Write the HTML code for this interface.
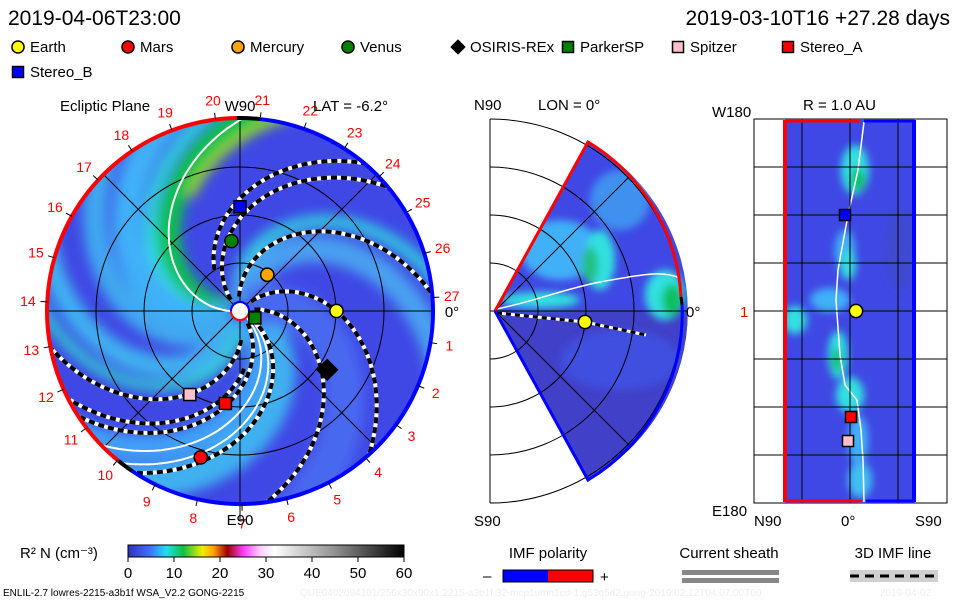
<!DOCTYPE html>
<html><head><meta charset="utf-8"><style>
body{margin:0;background:#fff;width:960px;height:600px;overflow:hidden}
svg{display:block;font-family:"Liberation Sans",sans-serif}
</style></head><body>
<svg id="s" width="960" height="600" viewBox="0 0 960 600">
<defs>
<filter id="bl" x="-20%" y="-20%" width="140%" height="140%"><feGaussianBlur stdDeviation="6"/></filter>
<filter id="bl2"><feGaussianBlur stdDeviation="4"/></filter>
<clipPath id="cd"><circle cx="240" cy="311" r="193"/></clipPath>
<clipPath id="cw"><path d="M495,311 L588,142 A193,193 0 0 1 588,480 Z"/></clipPath>
<clipPath id="cr"><rect x="785" y="119" width="130" height="384"/></clipPath>
<linearGradient id="cb" x1="0" x2="1">
<stop offset="0" stop-color="#3030c0"/><stop offset="0.08" stop-color="#4070ff"/><stop offset="0.14" stop-color="#20e0f0"/>
<stop offset="0.2" stop-color="#10c040"/><stop offset="0.27" stop-color="#f0f000"/><stop offset="0.31" stop-color="#ffa000"/>
<stop offset="0.36" stop-color="#a00000"/><stop offset="0.42" stop-color="#ff40ff"/><stop offset="0.48" stop-color="#ffd0ff"/>
<stop offset="0.53" stop-color="#ffffff"/><stop offset="0.75" stop-color="#909090"/><stop offset="1" stop-color="#000"/>
</linearGradient>
</defs>
<text x="8" y="25" font-size="21">2019-04-06T23:00</text>
<text x="950" y="25" font-size="21" text-anchor="end">2019-03-10T16 +27.28 days</text>
<g id="legend"></g>
<g id="disk"></g>
<g id="wedge"></g>
<g id="rp"></g>
<g>
<text x="20" y="558" font-size="15">R² N (cm⁻³)</text>
<rect x="128" y="545" width="276" height="12" fill="url(#cb)" stroke="#000"/>
<g id="cbt"></g>
</g>
<g>
<text x="548" y="558" font-size="15" text-anchor="middle">IMF polarity</text>
<text x="483" y="581" font-size="15">–</text>
<rect x="503" y="570" width="45" height="12" fill="#0000ff"/><rect x="548" y="570" width="45" height="12" fill="#ff0000"/>
<rect x="503" y="570" width="90" height="12" fill="none" stroke="#000"/>
<text x="600" y="582" font-size="15">+</text>
<text x="729" y="558" font-size="15" text-anchor="middle">Current sheath</text>
<rect x="682" y="570" width="97" height="5" fill="#888"/><rect x="682" y="578" width="97" height="5" fill="#888"/>
<text x="893" y="558" font-size="15" text-anchor="middle">3D IMF line</text>
<rect x="850" y="570" width="88" height="12" fill="#d0d0d0"/>
<line x1="850" y1="576" x2="938" y2="576" stroke="#000" stroke-width="3" stroke-dasharray="9,6"/>
</g>
<text x="3" y="596" font-size="10">ENLIL-2.7 lowres-2215-a3b1f WSA_V2.2 GONG-2215</text>
<text x="300" y="596" font-size="10" fill="#eee">QUE0402094101/256x30x90x1.2215-a3b1f.32-mcp1umn1cd-1.g53q5d2.gong-2019:02:12T04:07:00T00</text>
<text x="880" y="596" font-size="10" fill="#eee">2019-04-02</text>
</svg>
<script>
// ---- data ----
const planetNames=["Earth","Mars","Mercury","Venus","OSIRIS-REx","ParkerSP","Spitzer","Stereo_A","Stereo_B"];
const planetColors=["#ffff00","#ff0000","#ffa500","#008000","#000000","#008000","#ffc0cb","#ff0000","#0000ff"];
const planetShapes=["c","c","c","c","d","s","s","s","s"];
const planetR=[1.0,1.57,0.47,0.73,1.09,0.17,1.01,0.97,1.08];      // AU
const planetLon=[0,-105,53,97,-34,-25,-121,-99,90];              // deg
const fieldLineLon=[0,53,88,98,-34,-75,-99,-105,-121];           // lon at 1 AU
const fieldLineStart=[0.15,0.15,0.15,0.5,0.15,0.15,0.15,0.6,0.3];
const sheetLon=[137,-88,-80];
const bandLon=[137,150,165,185,215,230,60,40,-70,-90,-20];
const bandColors=["#10c050","#30d8e0","#40b0f8","#40a8f0","#40b0f0","#30d0d0","#30d0e0","#48a0f0","#40b0f0","#40a0f8","#4868f0"];
const bandWidths=[24,12,30,24,22,10,12,26,34,26,40];
const cbTicks=[0,10,20,30,40,50,60];
const lonLabels=[1,2,3,4,5,6,7,8,9,10,11,12,13,14,15,16,17,18,19,20,21,22,23,24,25,26,27];
const latTicks=[1];
// ---- scales ----
const NS="http://www.w3.org/2000/svg";
const CX=240,CY=311,AU=96.5,K=-48;
function mk(p,t,a){const e=document.createElementNS(NS,t);for(const k in a)e.setAttribute(k,a[k]);p.appendChild(e);return e;}
function px(r,lon){const a=lon*Math.PI/180;return [CX+r*AU*Math.cos(a),CY-r*AU*Math.sin(a)];}
function spiral(l1,r0,r1){let d="";for(let r=r0;r<=r1+1e-6;r+=0.04){const p=px(r,l1+K*(r-1));d+=(d?"L":"M")+p[0].toFixed(1)+","+p[1].toFixed(1);}return d;}
function marker(g,x,y,sh,col,sz){
 if(sh==="c")return mk(g,"circle",{cx:x,cy:y,r:sz*0.55,fill:col,stroke:"#000","stroke-width":1.5});
 if(sh==="s")return mk(g,"rect",{x:x-sz/2,y:y-sz/2,width:sz,height:sz,fill:col,stroke:"#000","stroke-width":1.5});
 return mk(g,"path",{d:`M${x},${y-sz*0.7}L${x+sz*0.7},${y}L${x},${y+sz*0.7}L${x-sz*0.7},${y}Z`,fill:col});
}
// legend
const lg=document.getElementById("legend");
planetNames.forEach((n,i)=>{
 const x=i<8?18+i*110:18, y=i<8?47:72;
 const m=marker(lg,x,y,planetShapes[i],planetColors[i],11);
 
 
 const t=mk(lg,"text",{x:x+12,y:y+5,"font-size":15});t.textContent=n;
 
 
});
// disk
const dk=document.getElementById("disk");
const bg=mk(dk,"g",{"clip-path":"url(#cd)"});
mk(bg,"circle",{cx:CX,cy:CY,r:193,fill:"#3f48e4"});
const bb=mk(bg,"g",{filter:"url(#bl)"});
bandLon.forEach((l,i)=>{const p=mk(bb,"path",{d:spiral(l,0.1,2.4),fill:"none",stroke:bandColors[i],"stroke-width":bandWidths[i]});
 });
mk(bb,"path",{d:spiral(128,1.3,2.1),fill:"none",stroke:"#a0e000","stroke-width":8});
const gr=mk(dk,"g",{stroke:"#000","stroke-width":1,fill:"none"});
[48,96,144].forEach(r=>mk(gr,"circle",{cx:CX,cy:CY,r:r}));
mk(gr,"line",{x1:CX-193,y1:CY,x2:CX+193,y2:CY});mk(gr,"line",{x1:CX,y1:CY-193,x2:CX,y2:CY+210});
const dd=193*Math.SQRT1_2;
mk(gr,"line",{x1:CX-dd,y1:CY-dd,x2:CX+dd,y2:CY+dd});mk(gr,"line",{x1:CX-dd,y1:CY+dd,x2:CX+dd,y2:CY-dd});
sheetLon.forEach(l=>{const p=mk(dk,"path",{d:spiral(l,0.1,2.1),fill:"none",stroke:"#fff","stroke-width":2,"clip-path":"url(#cd)"});
 });
fieldLineLon.forEach((l,i)=>{const d=spiral(l,fieldLineStart[i],2.05);
 const g=mk(dk,"g",{"clip-path":"url(#cd)"});
 
 mk(g,"path",{d:d,fill:"none",stroke:"#fff","stroke-width":4});
 mk(g,"path",{d:d,fill:"none",stroke:"#000","stroke-width":4,"stroke-dasharray":"6,4"});});
// edge arcs
function arc(a0,a1,col){const p0=px(2,a0),p1=px(2,a1);const large=Math.abs(a1-a0)>180?1:0;
 return mk(dk,"path",{d:`M${p0[0]},${p0[1]}A193,193 0 ${large} 0 ${p1[0]},${p1[1]}`,fill:"none",stroke:col,"stroke-width":4});}
arc(-124,84,"#0000ff");arc(84,91,"#000");arc(91,231,"#ff0000");arc(231,236,"#000");
mk(dk,"circle",{cx:CX,cy:CY,r:9,fill:"#fff",stroke:"#ff0000","stroke-width":2});
mk(dk,"path",{d:`M${CX-9},${CY}A9,9 0 0 1 ${CX+9},${CY}`,fill:"none",stroke:"#0000ff","stroke-width":2});
lonLabels.forEach(n=>{const a=4+(27-n)*13.33;const p=px(2.2,a),q=px(2.0,a),q2=px(2.07,a);
 mk(dk,"line",{x1:q[0],y1:q[1],x2:q2[0],y2:q2[1],stroke:"#000"});
 const t=mk(dk,"text",{x:p[0],y:p[1]+5,"font-size":14,fill:"#ff0000","text-anchor":"middle"});t.textContent=n;
 });
[["Ecliptic Plane",60,111,"start"],["W90",240,111,"middle"],["LAT = -6.2°",313,111,"start"],["E90",240,525,"middle"],["0°",452,317,"middle"]].forEach(a=>{
 const t=mk(dk,"text",{x:a[1],y:a[2],"font-size":15,"text-anchor":a[3]});t.textContent=a[0];
 });
planetNames.forEach((n,i)=>{const p=px(planetR[i],planetLon[i]);
 const m=marker(dk,p[0],p[1],planetShapes[i],planetColors[i],planetShapes[i]==="d"?16:12);
 });
// wedge
const wg=document.getElementById("wedge");const AX=495,AY=311;
mk(wg,"line",{x1:490,y1:119,x2:490,y2:503,stroke:"#000"});
const wb=mk(wg,"g",{"clip-path":"url(#cw)"});
mk(wb,"rect",{x:480,y:110,width:220,height:400,fill:"#3f48e4"});
mk(wb,"rect",{x:495,y:311,width:200,height:180,fill:"#4040c8"});
const wbb=mk(wb,"g",{filter:"url(#bl2)"});
[[560,250,40,30,"#40b0f8"],[600,260,15,30,"#30e0e0"],[590,265,8,18,"#20c080"],[665,295,20,25,"#30e0e0"],[672,300,10,16,"#10c060"],[540,300,40,8,"#30e0e0"],[620,200,30,30,"#4090f0"],[620,360,60,30,"#3f50e0"]].forEach(b=>mk(wbb,"ellipse",{cx:b[0],cy:b[1],rx:b[2],ry:b[3],fill:b[4]}));
[48,96,144,192].forEach(r=>mk(wg,"path",{d:`M490,${AY-r}A${r},${r} 0 0 1 490,${AY+r}`,fill:"none",stroke:"#000"}));
mk(wg,"line",{x1:490,y1:AY,x2:688,y2:AY,stroke:"#000"});
mk(wg,"line",{x1:AX,y1:AY,x2:AX+136,y2:AY-136,stroke:"#000"});mk(wg,"line",{x1:AX,y1:AY,x2:AX+136,y2:AY+136,stroke:"#000"});
mk(wg,"path",{d:"M497,309 C540,300 560,290 600,282 C640,275 660,270 680,278",fill:"none",stroke:"#fff","stroke-width":1.5});
mk(wg,"path",{d:"M497,313 L585,322 L646,335",fill:"none",stroke:"#fff","stroke-width":3});
mk(wg,"path",{d:"M497,313 L585,322 L646,335",fill:"none",stroke:"#000","stroke-width":3,"stroke-dasharray":"5,4"});
mk(wg,"path",{d:"M495,311 L588,142 A193,193 0 0 1 681,297",fill:"none",stroke:"#ff0000","stroke-width":3});
mk(wg,"path",{d:"M681,297 A193,193 0 0 1 682,305",fill:"none",stroke:"#000","stroke-width":3});
mk(wg,"path",{d:"M682,305 A193,193 0 0 1 588,480 L495,311",fill:"none",stroke:"#0000ff","stroke-width":3});
marker(wg,585,322,"c","#ffff00",12);
[["N90",474,110],["LON = 0°",538,110],["S90",474,526],["0°",686,317]].forEach(a=>{const t=mk(wg,"text",{x:a[1],y:a[2],"font-size":15});t.textContent=a[0];
 });
// right panel
const rp=document.getElementById("rp");
mk(rp,"rect",{x:754,y:119,width:193,height:384,fill:"#fff",stroke:"#000"});
const rb=mk(rp,"g",{"clip-path":"url(#cr)"});
mk(rb,"rect",{x:785,y:119,width:130,height:384,fill:"#3f48e4"});
const rbb=mk(rb,"g",{filter:"url(#bl2)"});
[[855,170,14,25,"#30e0e0"],[858,180,7,12,"#10c060"],[845,250,10,20,"#40b0f8"],[848,265,8,15,"#30e0e0"],[795,320,12,14,"#30e0e0"],[830,300,20,12,"#40b0f8"],[838,355,10,24,"#30e0e0"],[837,360,5,12,"#10c060"],[850,395,14,18,"#30e0e0"],[858,440,10,25,"#40b0f8"],[860,480,12,18,"#40c0f0"],[900,250,15,40,"#3f48d0"]].forEach(b=>mk(rbb,"ellipse",{cx:b[0],cy:b[1],rx:b[2],ry:b[3],fill:b[4]}));
mk(rb,"path",{d:"M864,122 L858,170 L848,215 L838,270 L836,300 L840,355 L845,385 L857,400 L861,430 L863,460 L864,502",fill:"none",stroke:"#fff","stroke-width":1.5});
[802,850,898].forEach(x=>mk(rp,"line",{x1:x,y1:119,x2:x,y2:503,stroke:"#000"}));
[167,215,263,311,359,407,455].forEach(y=>mk(rp,"line",{x1:754,y1:y,x2:947,y2:y,stroke:"#000"}));
mk(rp,"line",{x1:785,y1:120,x2:785,y2:502,stroke:"#ff0000","stroke-width":4});
mk(rp,"line",{x1:914,y1:120,x2:914,y2:502,stroke:"#0000ff","stroke-width":4});
mk(rp,"line",{x1:785,y1:121,x2:860,y2:121,stroke:"#ff0000","stroke-width":3});mk(rp,"line",{x1:864,y1:121,x2:914,y2:121,stroke:"#0000ff","stroke-width":3});
mk(rp,"line",{x1:785,y1:501,x2:862,y2:501,stroke:"#ff0000","stroke-width":3});mk(rp,"line",{x1:866,y1:501,x2:914,y2:501,stroke:"#0000ff","stroke-width":3});
[[8,845,215],[7,851,417],[6,848,441]].forEach(a=>marker(rp,a[1],a[2],"s",planetColors[a[0]],11));
marker(rp,856,311,"c","#ffff00",12);
[["W180",712,117,"#000"],["R = 1.0 AU",803,110,"#000"],["E180",712,516,"#000"],["N90",754,526,"#000"],["0°",841,526,"#000"],["S90",915,526,"#000"]].forEach(a=>{const t=mk(rp,"text",{x:a[1],y:a[2],"font-size":15,fill:a[3]});t.textContent=a[0];
 });
latTicks.forEach(v=>{const t=mk(rp,"text",{x:740,y:317,"font-size":15,fill:"#ff0000"});t.textContent=v;
 });
// colorbar ticks
const cbt=document.getElementById("cbt");
cbTicks.forEach(v=>{const x=128+v/60*276;mk(cbt,"line",{x1:x,y1:557,x2:x,y2:562,stroke:"#000"});
 const t=mk(cbt,"text",{x:x,y:578,"font-size":15,"text-anchor":"middle"});t.textContent=v;
 });
</script>
</body></html>
